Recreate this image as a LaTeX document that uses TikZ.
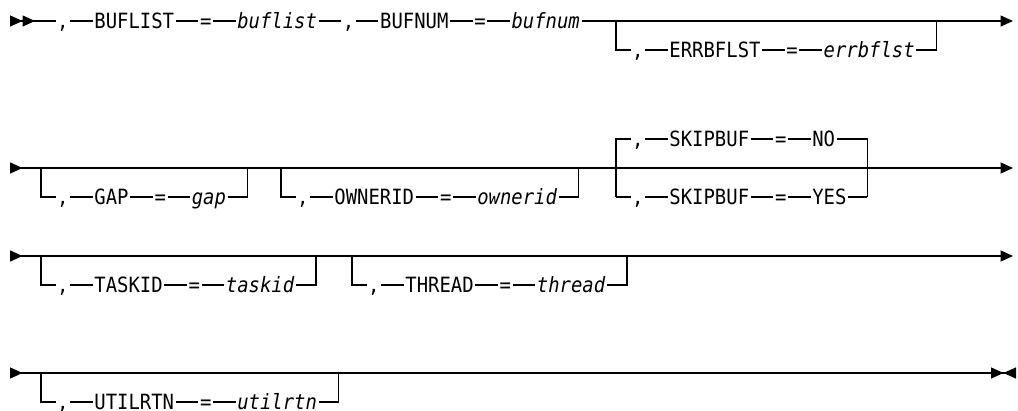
\documentclass[tikz,border=0pt]{standalone}
\usepackage{fontspec}
\setmonofont{DejaVu Sans Mono}[FakeStretch=0.9]
\usetikzlibrary{positioning,arrows.meta}
\newcommand\railfont{\ttfamily\fontsize{21}{24}\selectfont}
\tikzset{
	tri/.tip    = {Triangle[length=12.5pt, width=11pt]},
	rail/.style = {line width=1.2pt},
	word/.style = {inner xsep=1.5pt, inner ysep=0pt, text height=15.3pt, text depth=0pt, font=\railfont},
	var/.style  = {word, font=\railfont\itshape}
}

\begin{document}
\begin{tikzpicture} [x=1pt, y=-1pt, node distance=22.5pt]
		\useasboundingbox (0,0) rectangle (1018,411);
		
		% first line
		\coordinate (r1s) at (10,21);
		\coordinate (r1e) at (1013,21);
		\node [word, right=45.5pt of r1s] (c1) {,};
		\node [word, right=of c1] (buflistkw) {BUFLIST};
		\node [word, right=of buflistkw] (eq1) {=};
		\node [var, right=of eq1] (buflist) {buflist};
		\node [word, right=of buflist] (c2) {,};
		\node [word, right=of c2] (bufnumkw) {BUFNUM};
		\node [word, right=of bufnumkw] (eq2) {=};
		\node [var, right=of eq2] (bufnum) {bufnum};
		\draw [rail, {tri[reversed]tri[reversed]}-] (r1s) -- (c1);
		\draw [rail] (c1) -- (buflistkw) -- (eq1) -- (buflist) -- (c2) -- (bufnumkw) -- (eq2) -- (bufnum);
		\draw [rail, -{tri}] (bufnum) -- (r1e);
		
		% main lines of the other rows
		\coordinate (r2s) at (10,168);   \coordinate (r2e) at (1013,168);
		\coordinate (r3s) at (10,256);   \coordinate (r3e) at (1013,256);
		\coordinate (r4s) at (10,373);   \coordinate (r4e) at (1016,373);
		\draw [rail, {tri[reversed]}-{tri}] (r2s) -- (r2e);
		\draw [rail, {tri[reversed]}-{tri}] (r3s) -- (r3e);
		\draw [rail, {tri[reversed]}-{tri[]tri[reversed]}] (r4s) -- (r4e);
		
		% optional keywords
		\foreach \nm/\x/\y/\kw/\val in {err/616/21/ERRBFLST/errbflst, gap/41/168/GAP/gap,
				own/281/168/OWNERID/ownerid, task/41/256/TASKID/taskid,
				thr/352/256/THREAD/thread, util/41/373/UTILRTN/utilrtn} {
			\coordinate (\nm-top) at (\x,\y);
			\coordinate (\nm-bot) at (\x,\y+29);
			\node [word, right=14.5pt of \nm-bot] (\nm-c) {,};
			\node [word, right=of \nm-c] (\nm-k) {\kw};
			\node [word, right=of \nm-k] (\nm-e) {=};
			\node [var, right=of \nm-e] (\nm-v) {\val};
			\coordinate [right=20pt of \nm-v] (\nm-end);
			\draw [rail] (\nm-top) |- (\nm-c) -- (\nm-k) -- (\nm-e) -- (\nm-v) -- (\nm-end) -- (\nm-end |- \nm-top);
		}
		
		% SKIPBUF choice
		\coordinate (skup) at (616,139);
		\coordinate (sklo) at (616,197);
		\node [word, right=14.5pt of skup] (skc1) {,};
		\node [word, right=of skc1] (skk1) {SKIPBUF};
		\node [word, right=of skk1] (ske1) {=};
		\node [word, right=of ske1] (no) {NO};
		\node [word, right=14.5pt of sklo] (skc2) {,};
		\node [word, right=of skc2] (skk2) {SKIPBUF};
		\node [word, right=of skk2] (ske2) {=};
		\node [word, right=of ske2] (yes) {YES};
		\coordinate [right=19pt of yes] (skend);
		\draw [rail] (sklo) -- (skup) -- (skc1) -- (skk1) -- (ske1) -- (no) -- (skend |- skup) -- (skend);
		\draw [rail] (sklo) -- (skc2) -- (skk2) -- (ske2) -- (yes) -- (skend);
	\end{tikzpicture}
\end{document}
